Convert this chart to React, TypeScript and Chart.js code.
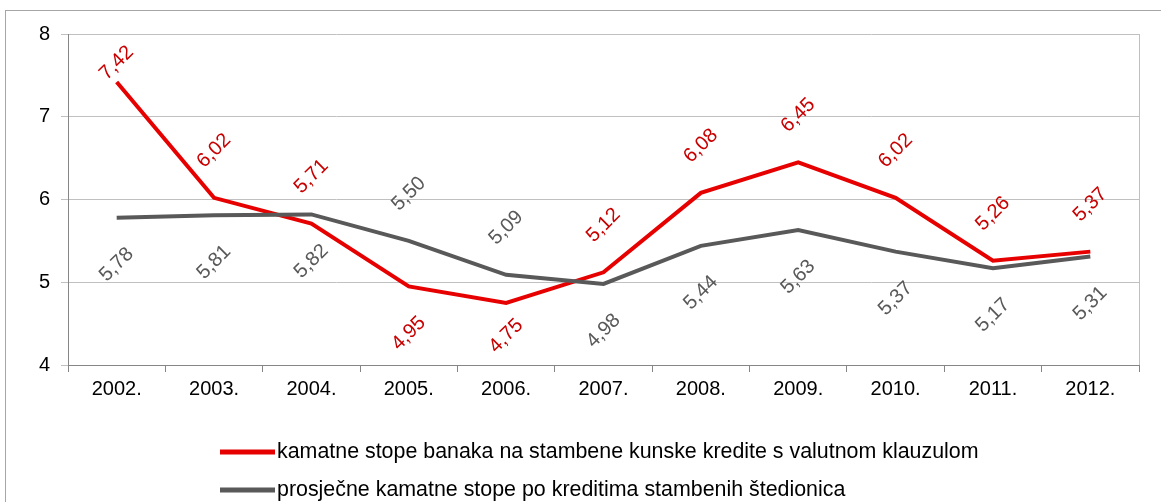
import React, { useEffect, useRef } from 'react';
import { Chart, registerables } from 'chart.js';

Chart.register(...registerables);

const FONT = '"Liberation Sans", Arial, Helvetica, sans-serif';

// ---- data ----
const categories = ['2002.', '2003.', '2004.', '2005.', '2006.', '2007.', '2008.', '2009.', '2010.', '2011.', '2012.'];
const bankRates = [7.42, 6.02, 5.71, 4.95, 4.75, 5.12, 6.08, 6.45, 6.02, 5.26, 5.37];
const savingsRates = [5.78, 5.81, 5.82, 5.5, 5.09, 4.98, 5.44, 5.63, 5.37, 5.17, 5.31];
const bankLabelPos = ['above', 'above', 'above', 'below', 'below', 'above', 'above', 'above', 'above', 'above', 'above'];
const savingsLabelPos = ['below', 'below', 'below', 'above', 'above', 'below', 'below', 'below', 'below', 'below', 'below'];
const seriesNames = [
  'kamatne stope banaka na stambene kunske kredite s valutnom klauzulom',
  'prosječne kamatne stope po kreditima stambenih štedionica',
];
const yMin = 4;
const yMax = 8;
const yStep = 1;

const fmt = (v: number) => v.toFixed(2).replace('.', ',');

export default function App() {
  const ref = useRef<HTMLCanvasElement>(null);

  useEffect(() => {
    if (!ref.current) return;

    const framePlugin = {
      id: 'plotFrame',
      beforeDatasetsDraw(chart: any) {
        const { ctx, chartArea } = chart;
        ctx.save();
        ctx.strokeStyle = '#c0c0c0';
        ctx.lineWidth = 1;
        ctx.beginPath();
        ctx.moveTo(Math.round(chartArea.right) + 0.5, chartArea.top);
        ctx.lineTo(Math.round(chartArea.right) + 0.5, chartArea.bottom);
        ctx.stroke();
        ctx.restore();
      },
    };

    const labelPlugin = {
      id: 'valueLabels',
      afterDatasetsDraw(chart: any) {
        const { ctx, chartArea } = chart;
        chart.data.datasets.forEach((ds: any, di: number) => {
          const meta = chart.getDatasetMeta(di);
          meta.data.forEach((pt: any, i: number) => {
            const dir = ds.labelPos[i] === 'above' ? -1 : 1;
            let cy = pt.y + dir * 47;
            cy = Math.max(chartArea.top + 29, Math.min(chartArea.bottom - 29, cy));
            ctx.save();
            ctx.translate(pt.x, cy);
            ctx.rotate(-Math.PI / 4);
            ctx.font = `20px ${FONT}`;
            ctx.fillStyle = ds.labelColor;
            ctx.textAlign = 'center';
            ctx.textBaseline = 'middle';
            ctx.fillText(fmt(ds.data[i]), 0, 0);
            ctx.restore();
          });
        });
      },
    };

    const legendPlugin = {
      id: 'stackedLegend',
      afterDraw(chart: any) {
        const { ctx } = chart;
        const x0 = 220;
        const ys = [452, 490];
        chart.data.datasets.forEach((ds: any, di: number) => {
          const y = ys[di];
          ctx.save();
          ctx.strokeStyle = ds.borderColor;
          ctx.lineWidth = 5;
          ctx.beginPath();
          ctx.moveTo(x0, y);
          ctx.lineTo(x0 + 55, y);
          ctx.stroke();
          ctx.font = `21.4px ${FONT}`;
          ctx.fillStyle = '#000';
          ctx.textAlign = 'left';
          ctx.textBaseline = 'middle';
          ctx.fillText(ds.label, x0 + 57, y);
          ctx.restore();
        });
      },
    };

    const chart = new Chart(ref.current, {
      type: 'line',
      data: {
        labels: categories,
        datasets: [
          {
            label: seriesNames[0],
            data: bankRates,
            borderColor: '#e60000',
            backgroundColor: '#e60000',
            borderWidth: 4,
            pointRadius: 0,
            tension: 0,
            order: 1,
            labelColor: '#c80000',
            labelPos: bankLabelPos,
          } as any,
          {
            label: seriesNames[1],
            data: savingsRates,
            borderColor: '#595959',
            backgroundColor: '#595959',
            borderWidth: 4,
            pointRadius: 0,
            tension: 0,
            order: 0,
            labelColor: '#595959',
            labelPos: savingsLabelPos,
          } as any,
        ],
      },
      options: {
        responsive: false,
        maintainAspectRatio: false,
        animation: false,
        devicePixelRatio: 1,
        layout: { padding: { left: 0, top: 34, right: 22, bottom: 101 } },
        plugins: {
          legend: { display: false },
          tooltip: { enabled: false },
          title: { display: false },
        },
        scales: {
          x: {
            type: 'category',
            offset: true,
            grid: {
              display: true,
              offset: true,
              drawOnChartArea: false,
              drawTicks: true,
              tickLength: 7,
              tickColor: '#868686',
            },
            border: { display: true, color: '#868686', width: 1 },
            ticks: {
              color: '#000',
              font: { family: FONT, size: 20 },
              padding: 5,
              maxRotation: 0,
              autoSkip: false,
            },
            afterFit(scale: any) {
              scale.height = 36;
            },
          },
          y: {
            min: yMin,
            max: yMax,
            grid: {
              color: '#c0c0c0',
              tickColor: '#c0c0c0',
              tickLength: 7,
              drawTicks: true,
            },
            border: { display: true, color: '#868686', width: 1 },
            ticks: {
              stepSize: yStep,
              color: '#000',
              font: { family: FONT, size: 20 },
              padding: 11,
            },
            afterFit(scale: any) {
              scale.width = 68;
            },
          },
        },
      },
      plugins: [framePlugin, labelPlugin, legendPlugin],
    });

    return () => chart.destroy();
  }, []);

  return (
    <div
      style={{
        position: 'fixed',
        left: 0,
        top: 0,
        width: 1161,
        height: 502,
        overflow: 'hidden',
        background: '#fff',
      }}
    >
      <div
        style={{
          position: 'absolute',
          left: 5,
          top: 10,
          width: 1300,
          height: 700,
          border: '1px solid #a6a6a6',
        }}
      />
      <canvas
        ref={ref}
        width={1161}
        height={502}
        style={{ position: 'absolute', left: 0, top: 0, width: 1161, height: 502 }}
      />
    </div>
  );
}
